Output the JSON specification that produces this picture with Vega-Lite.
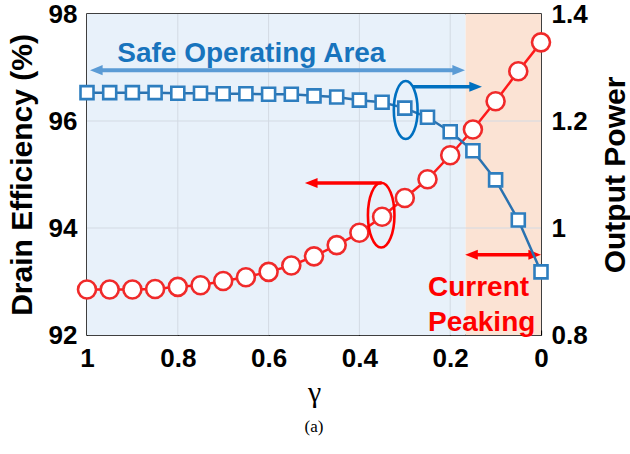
{
  "$schema": "https://vega.github.io/schema/vega-lite/v6.json",
  "width": 454,
  "height": 321,
  "autosize": {"type": "none"},
  "padding": {"left": 87, "top": 14, "right": 89, "bottom": 119},
  "background": "white",
  "config": {
    "view": {"stroke": "black", "strokeWidth": 1.5},
    "axis": {
      "labelFont": "Liberation Sans", "labelFontWeight": "bold", "labelFontSize": 26, "labelColor": "black",
      "titleFont": "Liberation Sans", "titleFontWeight": "bold", "titleFontSize": 30, "titleColor": "black",
      "domain": false, "grid": false, "tickColor": "black", "tickWidth": 1.2
    }
  },
  "title": {"text": "(a)", "orient": "bottom", "font": "Liberation Serif", "fontSize": 17, "fontWeight": "normal", "color": "black", "offset": 12},
  "datasets": {
    "series": [
      {"gamma": 1.00, "eff": 92.85, "pout": 1.253},
      {"gamma": 0.95, "eff": 92.85, "pout": 1.253},
      {"gamma": 0.90, "eff": 92.85, "pout": 1.253},
      {"gamma": 0.85, "eff": 92.86, "pout": 1.253},
      {"gamma": 0.80, "eff": 92.90, "pout": 1.252},
      {"gamma": 0.75, "eff": 92.93, "pout": 1.252},
      {"gamma": 0.70, "eff": 93.01, "pout": 1.251},
      {"gamma": 0.65, "eff": 93.08, "pout": 1.251},
      {"gamma": 0.60, "eff": 93.18, "pout": 1.250},
      {"gamma": 0.55, "eff": 93.30, "pout": 1.250},
      {"gamma": 0.50, "eff": 93.47, "pout": 1.247},
      {"gamma": 0.45, "eff": 93.68, "pout": 1.245},
      {"gamma": 0.40, "eff": 93.91, "pout": 1.239},
      {"gamma": 0.35, "eff": 94.21, "pout": 1.235},
      {"gamma": 0.30, "eff": 94.56, "pout": 1.224},
      {"gamma": 0.25, "eff": 94.91, "pout": 1.207},
      {"gamma": 0.20, "eff": 95.36, "pout": 1.180},
      {"gamma": 0.15, "eff": 95.84, "pout": 1.1445},
      {"gamma": 0.10, "eff": 96.37, "pout": 1.090},
      {"gamma": 0.05, "eff": 96.93, "pout": 1.015},
      {"gamma": 0.00, "eff": 97.47, "pout": 0.918}
    ]
  },
  "layer": [
    {
      "layer": [
        {
          "data": {"values": [{"x1": 1, "x2": 0.166, "region": "safe"}, {"x1": 0.166, "x2": 0, "region": "peak"}]},
          "mark": {"type": "rect"},
          "encoding": {
            "x": {"field": "x1", "type": "quantitative", "scale": {"domain": [0, 1], "reverse": true, "nice": false, "zero": false},
              "axis": {"orient": "bottom", "values": [0, 0.2, 0.4, 0.6, 0.8, 1], "format": "~f", "title": "γ",
                "titleFont": "Liberation Serif", "titleFontWeight": "normal", "titleFontSize": 30, "titlePadding": 6,
                "tickSize": -5, "labelPadding": 15, "labelFlush": false}},
            "x2": {"field": "x2"},
            "color": {"field": "region", "type": "nominal", "scale": {"domain": ["safe", "peak"], "range": ["#e8f1fa", "#fbe3d4"]}, "legend": null}
          }
        },
        {
          "data": {"values": [{"g": 0.2}, {"g": 0.4}, {"g": 0.6}, {"g": 0.8}]},
          "mark": {"type": "rule", "color": "#d3dae3", "strokeWidth": 1},
          "encoding": {"x": {"field": "g", "type": "quantitative"}}
        },
        {
          "data": {"values": [{"v": 94}, {"v": 96}]},
          "mark": {"type": "rule", "color": "#d3dae3", "strokeWidth": 1},
          "encoding": {"y": {"field": "v", "type": "quantitative"}}
        },
        {
          "data": {"name": "series"},
          "mark": {"type": "line", "color": "#ff1a1a", "strokeWidth": 2.5},
          "encoding": {
            "x": {"field": "gamma", "type": "quantitative"},
            "y": {"field": "eff", "type": "quantitative", "scale": {"domain": [92, 98], "nice": false, "zero": false},
              "axis": {"orient": "left", "values": [92, 94, 96, 98], "format": "d", "title": "Drain Efficiency (%)",
                "ticks": false, "labelPadding": 10, "titlePadding": 11}}
          }
        },
        {
          "data": {"name": "series"},
          "mark": {"type": "point", "shape": "circle", "size": 324, "fill": "white", "stroke": "#f02a2a", "strokeWidth": 2.6, "opacity": 1},
          "encoding": {
            "x": {"field": "gamma", "type": "quantitative"},
            "y": {"field": "eff", "type": "quantitative"}
          }
        },
        {
          "data": {"values": [{"a": 0.9758, "b": 0.185, "y": 96.95}]},
          "mark": {"type": "rule", "color": "#5b9bd5", "strokeWidth": 4},
          "encoding": {"x": {"field": "a", "type": "quantitative"}, "x2": {"field": "b"}, "y": {"field": "y", "type": "quantitative"}}
        },
        {
          "data": {"values": [{"x": 0.9934, "y": 96.95, "dir": "L"}, {"x": 0.1674, "y": 96.95, "dir": "R"}]},
          "mark": {"type": "point", "filled": true, "size": 160, "color": "#5b9bd5", "opacity": 1},
          "encoding": {
            "x": {"field": "x", "type": "quantitative"}, "y": {"field": "y", "type": "quantitative"},
            "shape": {"field": "dir", "type": "nominal", "scale": {"domain": ["L", "R"], "range": ["M0,0 L2,-0.8 L2,0.8 Z", "M0,0 L-2,-0.8 L-2,0.8 Z"]}, "legend": null}
          }
        },
        {
          "data": {"values": [{"a": 0.351, "b": 0.502, "y": 94.84}, {"a": 0.149, "b": 0.0176, "y": 93.5}]},
          "mark": {"type": "rule", "color": "#ff0000", "strokeWidth": 3.5},
          "encoding": {"x": {"field": "a", "type": "quantitative"}, "x2": {"field": "b"}, "y": {"field": "y", "type": "quantitative"}}
        },
        {
          "data": {"values": [{"x": 0.52, "y": 94.84, "dir": "L"}, {"x": 0.167, "y": 93.5, "dir": "L"}, {"x": 0.0, "y": 93.5, "dir": "R"}]},
          "mark": {"type": "point", "filled": true, "size": 160, "color": "#ff0000", "opacity": 1},
          "encoding": {
            "x": {"field": "x", "type": "quantitative"}, "y": {"field": "y", "type": "quantitative"},
            "shape": {"field": "dir", "type": "nominal", "legend": null}
          }
        },
        {
          "data": {"values": [{"x": 0.352, "y": 94.24}]},
          "mark": {"type": "point", "shape": "M0,-1 C0.2265,-1 0.41,-0.5523 0.41,0 C0.41,0.5523 0.2265,1 0,1 C-0.2265,1 -0.41,0.5523 -0.41,0 C-0.41,-0.5523 -0.2265,-1 0,-1 Z", "size": 4186, "filled": false, "stroke": "#ff0000", "strokeWidth": 2.6, "opacity": 1},
          "encoding": {"x": {"field": "x", "type": "quantitative"}, "y": {"field": "y", "type": "quantitative"}}
        },
        {
          "data": {"values": [{"x": 0.638, "y": 97.108, "label": "Safe Operating Area"}]},
          "mark": {"type": "text", "font": "Liberation Sans", "fontWeight": "bold", "fontSize": 28, "color": "#1874bd", "align": "center", "baseline": "alphabetic"},
          "encoding": {"x": {"field": "x", "type": "quantitative"}, "y": {"field": "y", "type": "quantitative"}, "text": {"field": "label"}}
        },
        {
          "data": {"values": [{"x": 0.249, "y": 92.73, "label": "Current"}, {"x": 0.249, "y": 92.07, "label": "Peaking"}]},
          "mark": {"type": "text", "font": "Liberation Sans", "fontWeight": "bold", "fontSize": 28, "color": "#ff0000", "align": "left", "baseline": "alphabetic"},
          "encoding": {"x": {"field": "x", "type": "quantitative"}, "y": {"field": "y", "type": "quantitative"}, "text": {"field": "label"}}
        }
      ]
    },
    {
      "layer": [
        {
          "data": {"name": "series"},
          "mark": {"type": "line", "color": "#2a72b0", "strokeWidth": 2.5},
          "encoding": {
            "x": {"field": "gamma", "type": "quantitative",
              "axis": {"orient": "top", "values": [0.2, 0.4, 0.6, 0.8], "labels": false, "title": null, "tickSize": -5}},
            "y": {"field": "pout", "type": "quantitative", "scale": {"domain": [0.8, 1.4], "nice": false, "zero": false},
              "axis": {"orient": "right", "values": [0.8, 1, 1.2, 1.4], "format": "~f", "title": "Output Power",
                "ticks": false, "labelPadding": 10, "titlePadding": 13, "titleAngle": 270, "titleBaseline": "top"}}
          }
        },
        {
          "data": {"name": "series"},
          "mark": {"type": "point", "shape": "square", "size": 169, "fill": "white", "stroke": "#2e7ebf", "strokeWidth": 2.6, "opacity": 1},
          "encoding": {
            "x": {"field": "gamma", "type": "quantitative"},
            "y": {"field": "pout", "type": "quantitative"}
          }
        },
        {
          "data": {"values": [{"x": 0.298, "y": 1.2206}]},
          "mark": {"type": "point", "shape": "M0,-1 C0.2265,-1 0.41,-0.5523 0.41,0 C0.41,0.5523 0.2265,1 0,1 C-0.2265,1 -0.41,0.5523 -0.41,0 C-0.41,-0.5523 -0.2265,-1 0,-1 Z", "size": 3364, "filled": false, "stroke": "#0070c0", "strokeWidth": 2.6, "opacity": 1},
          "encoding": {"x": {"field": "x", "type": "quantitative"}, "y": {"field": "y", "type": "quantitative"}}
        },
        {
          "data": {"values": [{"a": 0.282, "b": 0.148, "y": 1.264}]},
          "mark": {"type": "rule", "color": "#0070c0", "strokeWidth": 3.5},
          "encoding": {"x": {"field": "a", "type": "quantitative"}, "x2": {"field": "b"}, "y": {"field": "y", "type": "quantitative"}}
        },
        {
          "data": {"values": [{"x": 0.13, "y": 1.264}]},
          "mark": {"type": "point", "filled": true, "size": 160, "color": "#0070c0", "opacity": 1, "shape": "M0,0 L-2,-0.8 L-2,0.8 Z"},
          "encoding": {"x": {"field": "x", "type": "quantitative"}, "y": {"field": "y", "type": "quantitative"}}
        }
      ]
    }
  ],
  "resolve": {"scale": {"y": "independent"}, "axis": {"x": "independent"}}
}
